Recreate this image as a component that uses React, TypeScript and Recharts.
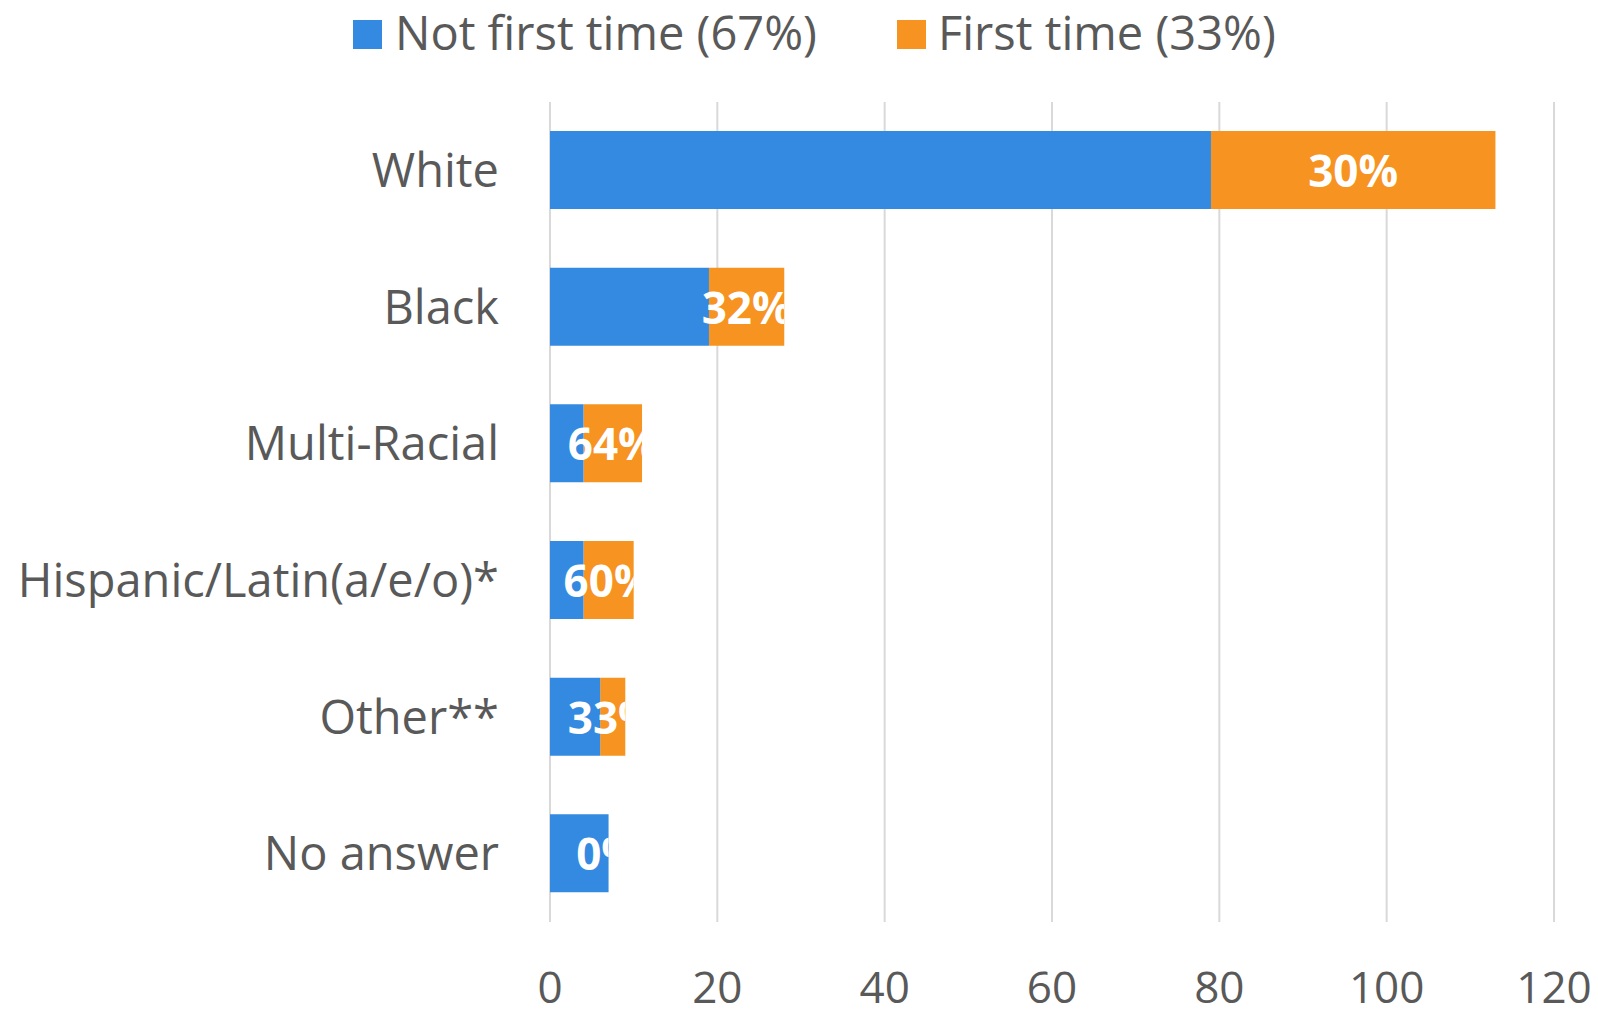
import React from 'react';
import { BarChart, Bar, XAxis, YAxis, CartesianGrid, LabelList, Legend } from 'recharts';

const categories = ['White', 'Black', 'Multi-Racial', 'Hispanic/Latin(a/e/o)*', 'Other**', 'No answer'];
const notFirstTime = [79, 19, 4, 4, 6, 7];
const firstTime = [34, 9, 7, 6, 3, 0];
const xTicks = [0, 20, 40, 60, 80, 100, 120];
const seriesNames = ['Not first time (67%)', 'First time (33%)'];

const BLUE = '#338ae0';
const ORANGE = '#f79320';
const TEXT = '#595959';
const FONT = '"Open Sans", "Noto Sans", sans-serif';

const data = categories.map((c, i) => ({
  name: c,
  notFirst: notFirstTime[i],
  first: firstTime[i],
  pct: Math.round((firstTime[i] / (firstTime[i] + notFirstTime[i])) * 100) + '%',
}));

const PLOT_LEFT = 550;

// Drawn from the "not first time" bar: its own scale (width / value) gives the orange segment extent.
const PctLabel = (props: any) => {
  const { x, y, width, height, index } = props;
  const unit = Number(width) / notFirstTime[index];
  const orangeStart = Number(x) + Number(width);
  const orangeW = firstTime[index] * unit;
  const right = orangeStart + orangeW;
  const id = `lbl-clip-${index}`;
  return (
    <g>
      <defs>
        <clipPath id={id}>
          <rect x={PLOT_LEFT} y={y} width={Math.max(0, right - PLOT_LEFT)} height={height} />
        </clipPath>
      </defs>
      <text
        x={orangeStart + orangeW / 2}
        y={Number(y) + Number(height) / 2}
        textAnchor="middle"
        dominantBaseline="central"
        fill="#ffffff"
        fontWeight="bold"
        fontSize={44}
        fontFamily={FONT}
        clipPath={`url(#${id})`}
      >
        {data[index].pct}
      </text>
    </g>
  );
};

const LegendContent = () => (
  <div style={{ position: 'relative', width: 1598, height: 70, fontFamily: FONT, color: TEXT }}>
    <div style={{ position: 'absolute', left: 353, top: 20, width: 29, height: 29, background: BLUE }} />
    <div style={{ position: 'absolute', left: 395, top: -1, fontSize: 47, lineHeight: '66px', whiteSpace: 'nowrap' }}>{seriesNames[0]}</div>
    <div style={{ position: 'absolute', left: 897, top: 20, width: 29, height: 29, background: ORANGE }} />
    <div style={{ position: 'absolute', left: 938, top: -1, fontSize: 47, lineHeight: '66px', whiteSpace: 'nowrap' }}>{seriesNames[1]}</div>
  </div>
);

export default function App() {
  return (
    <div style={{ position: 'absolute', left: 0, top: 0, background: '#fff' }}>
      <BarChart
        width={1598}
        height={1014}
        data={data}
        layout="vertical"
        margin={{ top: 32, right: 44, bottom: 0, left: 0 }}
        barSize={78}
        reverseStackOrder
      >
        <CartesianGrid horizontal={false} vertical={true} stroke="#d9d9d9" strokeWidth={2} />
        <XAxis
          type="number"
          domain={[0, 120]}
          ticks={xTicks}
          axisLine={false}
          tickLine={false}
          tickSize={0}
          tickMargin={50}
          height={92}
          tick={{ fill: TEXT, fontSize: 44, fontFamily: FONT }}
          interval={0}
        />
        <YAxis
          type="category"
          dataKey="name"
          width={550}
          axisLine={false}
          tickLine={false}
          tickSize={0}
          tickMargin={51}
          tick={{ fill: TEXT, fontSize: 47, fontFamily: FONT }}
          interval={0}
        />
        <Legend verticalAlign="top" height={70} content={<LegendContent />} wrapperStyle={{ position: 'absolute', left: 0, top: 0, width: 1598, height: 70 }} />
        <Bar dataKey="first" stackId="a" fill={ORANGE} isAnimationActive={false} name={seriesNames[1]} />
        <Bar dataKey="notFirst" stackId="a" fill={BLUE} isAnimationActive={false} name={seriesNames[0]}>
          <LabelList dataKey="notFirst" content={<PctLabel />} />
        </Bar>
      </BarChart>
    </div>
  );
}
